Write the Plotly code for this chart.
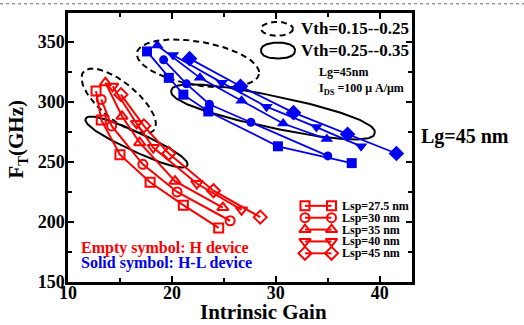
import numpy as np
import plotly.graph_objects as go

# ---------------- data ----------------
series_names = ["Lsp=27.5 nm", "Lsp=30 nm", "Lsp=35 nm", "Lsp=40 nm", "Lsp=45 nm"]
h_symbols = ["square-open", "circle-open", "triangle-up-open", "triangle-down-open", "diamond-open"]
hl_symbols = ["square", "circle", "triangle-up", "triangle-down", "diamond"]

# H device (empty symbols)
h_gain_275 = [12.7, 13.2, 15.0, 17.9, 21.1, 24.5]
h_ft_275 = [309, 285, 256, 233, 214, 195]
h_gain_30 = [13.2, 14.2, 17.2, 20.5, 25.6]
h_ft_30 = [302, 280, 248, 225, 201]
h_gain_35 = [13.6, 15.2, 16.9, 20.3, 24.9]
h_ft_35 = [316, 288, 266, 234, 212]
h_gain_40 = [14.3, 16.6, 18.2, 22.4, 26.7]
h_ft_40 = [313, 282, 262, 232, 210]
h_gain_45 = [15.1, 17.3, 19.7, 24.0, 28.5]
h_ft_45 = [306, 280, 257, 226, 204]

# H-L device (solid symbols)
hl_gain_275 = [17.6, 19.7, 21.1, 23.5, 30.2, 37.3]
hl_ft_275 = [342, 320, 306, 292, 263, 249]
hl_gain_30 = [19.2, 21.4, 23.6, 27.6, 35.0]
hl_ft_30 = [335, 315, 298, 283, 255]
hl_gain_35 = [18.6, 22.7, 26.7, 30.7, 34.9]
hl_ft_35 = [347, 320, 301, 282, 269]
hl_gain_40 = [20.1, 24.8, 29.1, 33.9, 38.2]
hl_ft_40 = [339, 316, 296, 279, 263]
hl_gain_45 = [21.7, 26.6, 31.7, 36.9, 41.6]
hl_ft_45 = [336, 313, 291, 273, 257]

x_ticks = [10, 20, 30, 40]
y_ticks = [150, 200, 250, 300, 350]

h_x = [h_gain_275, h_gain_30, h_gain_35, h_gain_40, h_gain_45]
h_y = [h_ft_275, h_ft_30, h_ft_35, h_ft_40, h_ft_45]
hl_x = [hl_gain_275, hl_gain_30, hl_gain_35, hl_gain_40, hl_gain_45]
hl_y = [hl_ft_275, hl_ft_30, hl_ft_35, hl_ft_40, hl_ft_45]

# ---------------- layout geometry ----------------
W, H = 524, 325
ML, MR, MT, MB = 68, 112, 10, 43
PW, PH = W - ML - MR, H - MT - MB
X_RANGE = [10, 43.1]
Y_RANGE = [150, 374]
FONT = "Liberation Serif, Times New Roman, serif"
RED = "#ff0000"
BLUE = "#0000f0"


def px2data(px, py):
    px = np.asarray(px, float)
    py = np.asarray(py, float)
    dx = X_RANGE[0] + (px - ML) / PW * (X_RANGE[1] - X_RANGE[0])
    dy = Y_RANGE[0] + (MT + PH - py) / PH * (Y_RANGE[1] - Y_RANGE[0])
    return dx, dy


def pxp(x):
    return (x - ML) / PW


def pyp(y):
    return (MT + PH - y) / PH


def ellipse_px(cx, cy, a, b, ang, n=2.0):
    t = np.linspace(0, 2 * np.pi, 161)
    c, s = np.cos(t), np.sin(t)
    c = np.sign(c) * np.abs(c) ** (2 / n)
    s = np.sign(s) * np.abs(s) ** (2 / n)
    u, v = a * c, b * s
    th = np.radians(ang)
    return cx + u * np.cos(th) - v * np.sin(th), cy + u * np.sin(th) + v * np.cos(th)


fig = go.Figure()

# Vth region outlines (pixel-space geometry: cx, cy, a, b, angle, dash)
regions = [
    (118.7, 99, 46, 18.6, 40, "dash"),
    (136.5, 140.5, 56, 9.5, 25, "solid"),
    (198, 61, 62, 22, 10, "dash"),
    (273, 110, 104, 16, 12, "solid"),
    (277, 26, 16, 7, 0, "dash"),
    (278, 48, 17, 8, 0, "solid"),
]
for cx, cy, a, b, ang, dash in regions:
    ex, ey = ellipse_px(cx, cy, a, b, ang, 2.0 if dash == "dash" else 2.3)
    dx, dy = px2data(ex, ey)
    fig.add_trace(go.Scatter(x=dx, y=dy, mode="lines", showlegend=False, hoverinfo="skip",
                             line=dict(color="black", width=2, dash=dash if dash == "solid" else "6px,4px")))

h_sizes = [9, 9, 10, 10, 10]
hl_sizes = [10, 9, 11, 11, 12]
for i in range(5):
    fig.add_trace(go.Scatter(x=h_x[i], y=h_y[i], mode="lines+markers", name=series_names[i],
                             showlegend=False,
                             line=dict(color=RED, width=2),
                             marker=dict(symbol=h_symbols[i], size=h_sizes[i], color=RED,
                                         line=dict(color=RED, width=2))))
for i in range(5):
    fig.add_trace(go.Scatter(x=hl_x[i], y=hl_y[i], mode="lines+markers", name=series_names[i],
                             showlegend=False,
                             line=dict(color=BLUE, width=1.8),
                             marker=dict(symbol=hl_symbols[i], size=hl_sizes[i], color=BLUE)))

# custom legend (pixel rows)
leg_rows = [205, 217, 229, 241, 253]
leg_x0, leg_x1, leg_tx = 305, 331.5, 340
annotations = []
for i in range(5):
    dx, dy = px2data([leg_x0, leg_x1], [leg_rows[i], leg_rows[i]])
    fig.add_trace(go.Scatter(x=dx, y=dy, mode="lines+markers", showlegend=False, hoverinfo="skip",
                             line=dict(color=RED, width=2),
                             marker=dict(symbol=h_symbols[i], size=h_sizes[i], color=RED,
                                         line=dict(color=RED, width=2))))
    annotations.append(dict(x=pxp(leg_tx), y=pyp(leg_rows[i]), xref="paper", yref="paper",
                            text=series_names[i], showarrow=False, xanchor="left", yanchor="middle",
                            font=dict(family=FONT, size=12, color="black", weight="bold")))


def txt(t, x, y, size, color="black", xanchor="left", angle=0):
    annotations.append(dict(x=pxp(x), y=pyp(y), xref="paper", yref="paper", text=t,
                            showarrow=False, xanchor=xanchor, yanchor="middle", textangle=angle,
                            font=dict(family=FONT, size=size, color=color, weight="bold")))


txt("Vth=0.15--0.25", 299, 26, 17)
txt("Vth=0.25--0.35", 299, 48, 17)
txt("Lg=45nm", 317, 70, 12)
txt("I<sub>DS</sub> =100 \u03bc A/\u03bcm", 317, 87, 12)
txt("Lg=45 nm", 419, 135, 20)
txt("Empty symbol: H device", 79, 248, 16, RED)
txt("Solid symbol: H-L device", 79, 263, 16, BLUE)
txt("Intrinsic Gain", 263, 312, 21, xanchor="center")
txt("F<sub>T</sub>(GHz)", 17, 137, 21, xanchor="center", angle=-90)

axis_common = dict(showline=True, linewidth=2.5, linecolor="black", mirror="allticks",
                   ticks="inside", ticklen=6, tickwidth=2, tickcolor="black",
                   showgrid=False, zeroline=False,
                   tickfont=dict(family=FONT, size=18, color="black", weight="bold"))

fig.update_layout(
    width=W, height=H,
    margin=dict(l=ML, r=MR, t=MT, b=MB, pad=0),
    paper_bgcolor="white", plot_bgcolor="white",
    showlegend=False,
    xaxis=dict(range=X_RANGE, tickvals=x_ticks, ticktext=[str(v) for v in x_ticks],
               ticklabelstandoff=-7,
               minor=dict(dtick=5, tick0=10, ticks="inside", ticklen=4, tickwidth=2, tickcolor="black"),
               **axis_common),
    yaxis=dict(range=Y_RANGE, tickvals=y_ticks, ticktext=[str(v) for v in y_ticks],
               ticklabelstandoff=-3,
               minor=dict(dtick=25, tick0=150, ticks="inside", ticklen=4, tickwidth=2, tickcolor="black"),
               **axis_common),
    annotations=annotations,
    shapes=[dict(type="line", xref="paper", yref="paper", x0=pxp(0), x1=pxp(W), y0=pyp(0.7), y1=pyp(0.7),
                 line=dict(color="#666666", width=1, dash="dot"))],
)

fig.write_html("out.html", config={"displayModeBar": False},
               post_script="document.body.style.margin='0';document.body.style.padding='0';")
